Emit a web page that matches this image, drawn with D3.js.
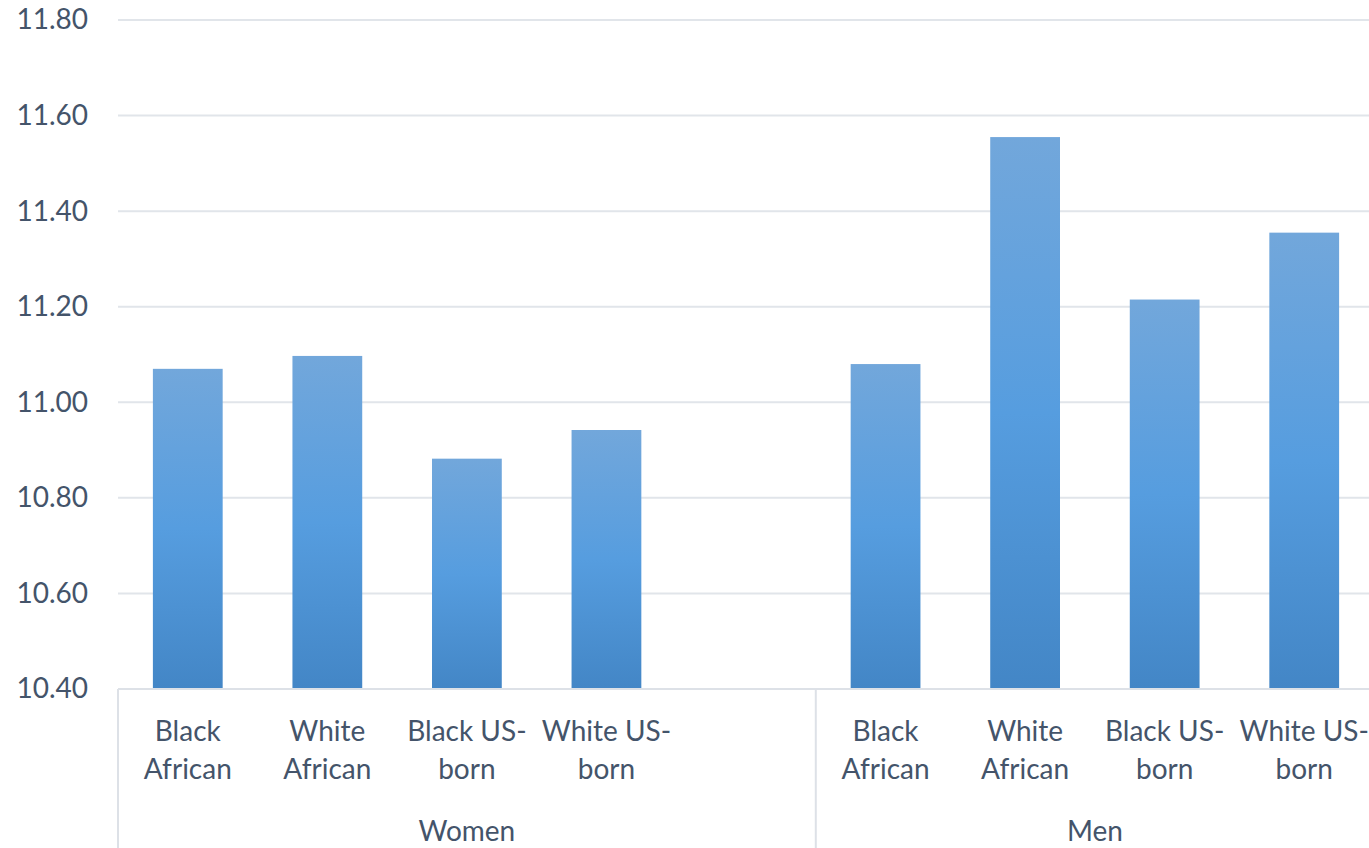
<!DOCTYPE html>
<html>
<head>
<meta charset="utf-8">
<script src="https://cdn.jsdelivr.net/npm/d3@7"></script>
<style>
  html, body { margin: 0; padding: 0; background: #ffffff; }
  svg { display: block; }
  text { font-family: Lato, "Open Sans", sans-serif; fill: #44546a; }
</style>
</head>
<body>
<svg id="chart" width="1369" height="848"></svg>
<script>
// Groups and the categories shown within each group
const groups = ["Women", "Men"];
const categories = ["Black African", "White African", "Black US-born", "White US-born"];
const categoryLines = [["Black", "African"], ["White", "African"], ["Black US-", "born"], ["White US-", "born"]];
const womenValues = [11.07, 11.097, 10.882, 10.942];
const menValues = [11.08, 11.555, 11.215, 11.355];
const yTicks = [10.40, 10.60, 10.80, 11.00, 11.20, 11.40, 11.60, 11.80];

const svg = d3.select("#chart");
const plotLeft = 118, plotRight = 1374, plotTop = 20, plotBottom = 689;
const fontSize = 28;

// Women has a trailing empty slot before the Men group
const slots = [];
categories.forEach((c, i) => slots.push({ key: "W" + i, group: "Women", cat: i, value: womenValues[i] }));
slots.push({ key: "gap", group: "Women", cat: null, value: null });
categories.forEach((c, i) => slots.push({ key: "M" + i, group: "Men", cat: i, value: menValues[i] }));

const x = d3.scaleBand()
  .domain(slots.map(d => d.key))
  .range([plotLeft, plotRight])
  .paddingInner(0.5)
  .paddingOuter(0.25);

const y = d3.scaleLinear().domain([10.40, 11.80]).range([plotBottom, plotTop]);

// Bar gradient
const defs = svg.append("defs");
const grad = defs.append("linearGradient")
  .attr("id", "barGrad")
  .attr("x1", 0).attr("y1", 0).attr("x2", 0).attr("y2", 1);
grad.append("stop").attr("offset", "0%").attr("stop-color", "#72a7db");
grad.append("stop").attr("offset", "50%").attr("stop-color", "#569ddf");
grad.append("stop").attr("offset", "100%").attr("stop-color", "#4386c6");

// Value axis labels
const yAxis = d3.axisLeft(y).tickValues(yTicks).tickFormat(d3.format(".2f")).tickSize(0).tickPadding(30);
const yg = svg.append("g").attr("transform", `translate(${plotLeft},0)`).call(yAxis);
yg.select(".domain").remove();
yg.selectAll("text").attr("font-size", fontSize).style("fill", "#44546a").attr("font-family", "Lato, sans-serif");

// Gridlines
svg.append("g").selectAll("line")
  .data(yTicks.slice(1))
  .join("line")
  .attr("x1", plotLeft).attr("x2", plotRight)
  .attr("y1", d => y(d)).attr("y2", d => y(d))
  .attr("stroke", "#e1e5ea").attr("stroke-width", 2);

// Bars
svg.append("g").selectAll("rect")
  .data(slots.filter(d => d.value !== null))
  .join("rect")
  .attr("x", d => x(d.key))
  .attr("width", x.bandwidth())
  .attr("y", d => y(d.value))
  .attr("height", d => y(10.40) - y(d.value))
  .attr("fill", "url(#barGrad)");

// Category axis line
svg.append("line")
  .attr("x1", plotLeft).attr("x2", plotRight)
  .attr("y1", plotBottom).attr("y2", plotBottom)
  .attr("stroke", "#dde1e7").attr("stroke-width", 2);

// Group separators
const step = x.step();
const groupBounds = [
  { name: groups[0], x0: plotLeft, x1: plotLeft + step * 5 },
  { name: groups[1], x0: plotLeft + step * 5, x1: plotRight }
];
const seps = [plotLeft, plotLeft + step * 5, plotRight];
svg.append("g").selectAll("line")
  .data(seps)
  .join("line")
  .attr("x1", d => d).attr("x2", d => d)
  .attr("y1", plotBottom).attr("y2", 848)
  .attr("stroke", "#dde1e7").attr("stroke-width", 2);

// Category labels
const labels = svg.append("g").selectAll("text")
  .data(slots.filter(d => d.cat !== null))
  .join("text")
  .attr("x", d => x(d.key) + x.bandwidth() / 2)
  .attr("y", 741)
  .attr("text-anchor", "middle")
  .attr("font-size", fontSize);
labels.selectAll("tspan")
  .data(d => categoryLines[d.cat].map(t => ({ t, cx: x(d.key) + x.bandwidth() / 2 })))
  .join("tspan")
  .attr("x", d => d.cx)
  .attr("dy", (d, i) => i === 0 ? 0 : 38)
  .text(d => d.t);

// Group labels
svg.append("g").selectAll("text")
  .data(groupBounds)
  .join("text")
  .attr("x", d => (d.x0 + d.x1) / 2)
  .attr("y", 841)
  .attr("text-anchor", "middle")
  .attr("font-size", fontSize)
  .text(d => d.name);
</script>
</body>
</html>
